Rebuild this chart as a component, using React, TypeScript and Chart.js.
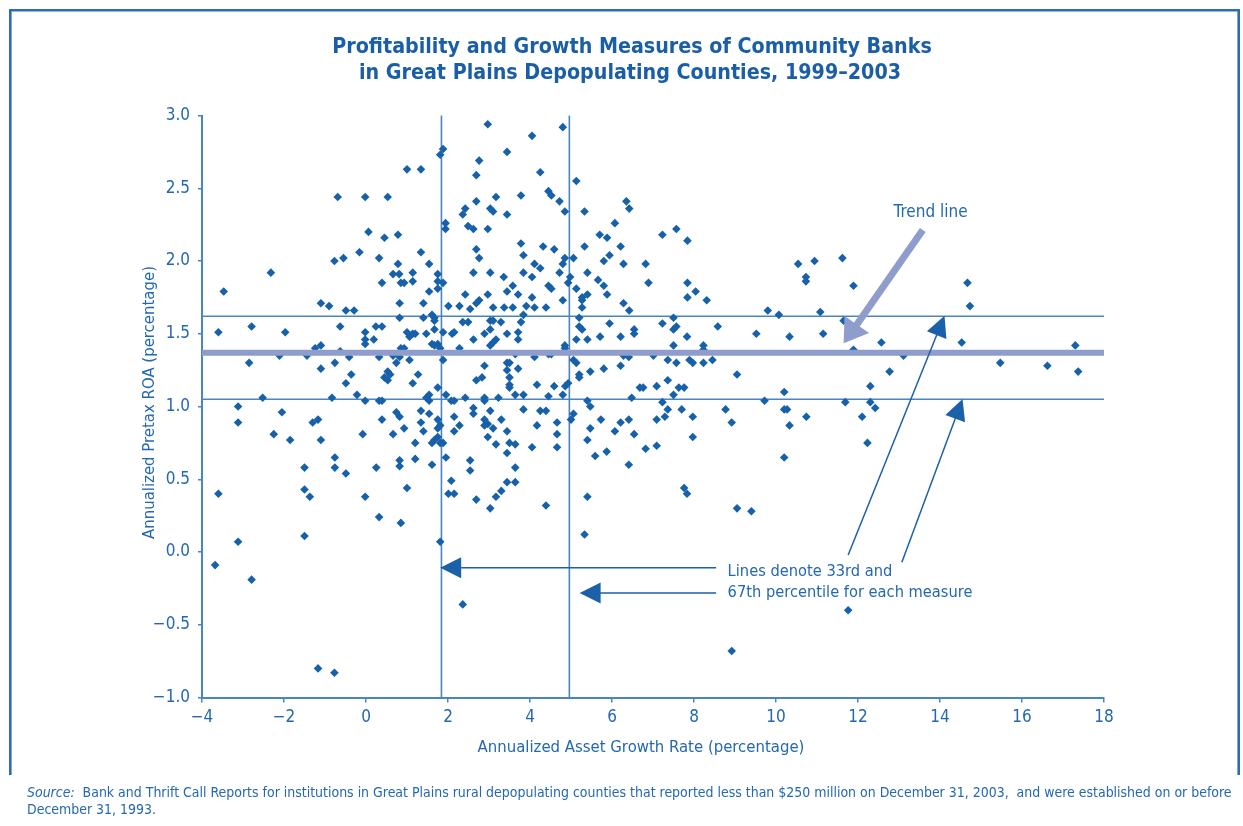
import React, { useEffect, useRef } from "react";
import { Chart, registerables } from "chart.js";

Chart.register(...registerables);

type Pt = [number, number]; // [asset growth %, pretax ROA %]

const banksWest: Pt[] = [
  [-0.69, 2.44], [-0.02, 2.44], [0.53, 2.44], [0.06, 2.2], [0.45, 2.16], [0.78, 2.18], [-0.77, 2.0], [-0.55, 2.02], [-0.16, 2.06], [0.32, 2.02],
  [0.78, 1.98], [-2.32, 1.92], [0.66, 1.91], [0.81, 1.91], [0.39, 1.85], [0.85, 1.85], [-3.47, 1.79], [-1.1, 1.71], [-0.9, 1.69], [-0.49, 1.66],
  [-0.29, 1.66], [0.82, 1.71], [0.82, 1.61], [-3.6, 1.51], [-2.79, 1.55], [-1.97, 1.51], [-0.63, 1.55], [-0.02, 1.51], [0.24, 1.55], [0.39, 1.55],
  [-0.02, 1.46], [-0.02, 1.43], [0.19, 1.46], [-1.24, 1.4], [-1.1, 1.42], [-0.63, 1.38], [0.85, 1.4], [-2.11, 1.35], [-1.44, 1.35], [-0.41, 1.34],
  [0.32, 1.34], [0.66, 1.35], [0.82, 1.34], [-2.85, 1.3], [-0.76, 1.3], [0.74, 1.3], [-1.1, 1.26], [-0.36, 1.22], [0.53, 1.24], [0.59, 1.22],
  [0.45, 1.2], [0.53, 1.18], [-0.49, 1.16], [-0.22, 1.08], [-2.52, 1.06], [-0.83, 1.06], [-0.02, 1.04], [0.32, 1.04], [0.39, 1.04], [-3.12, 1.0],
  [-2.05, 0.96], [0.74, 0.96], [0.82, 0.93], [-1.3, 0.89], [-1.17, 0.91], [-3.12, 0.89], [0.39, 0.91], [-2.25, 0.81], [-1.85, 0.77], [-1.1, 0.77],
  [-0.08, 0.81], [0.66, 0.81], [-0.76, 0.65], [-1.5, 0.58], [-0.76, 0.58], [-0.49, 0.54], [0.25, 0.58], [0.82, 0.63], [0.82, 0.59], [-3.6, 0.4],
  [-1.5, 0.43], [-1.37, 0.38], [-0.02, 0.38], [0.32, 0.24], [0.85, 0.2], [-3.12, 0.07], [-1.5, 0.11], [-3.68, -0.09], [-2.79, -0.19], [-1.17, -0.8],
  [-0.77, -0.83],
];

const banksCore: Pt[] = [
  [2.97, 2.94], [4.8, 2.92], [4.05, 2.86], [1.88, 2.77], [1.81, 2.73], [3.44, 2.75], [2.76, 2.69], [1.0, 2.63], [1.34, 2.63],
  [4.25, 2.61], [2.69, 2.59], [5.13, 2.55], [4.45, 2.48], [4.52, 2.45], [3.78, 2.45], [4.72, 2.41], [2.69, 2.41], [3.17, 2.44], [3.03, 2.36],
  [3.1, 2.34], [2.42, 2.36], [2.36, 2.32], [3.44, 2.32], [4.85, 2.34], [5.33, 2.34], [1.94, 2.26], [1.94, 2.22], [2.49, 2.24], [2.62, 2.22],
  [2.97, 2.22], [5.7, 2.18], [2.69, 2.08], [2.76, 2.02], [1.34, 2.06], [3.78, 2.12], [3.84, 2.04], [4.32, 2.1], [4.59, 2.08], [5.33, 2.1],
  [4.85, 2.02], [5.06, 2.02], [4.8, 1.98], [4.11, 1.98], [1.54, 1.98], [4.25, 1.95], [4.72, 1.92], [3.84, 1.92], [3.03, 1.92], [2.62, 1.92],
  [5.4, 1.92], [1.14, 1.92], [1.75, 1.91], [3.36, 1.89], [4.05, 1.89], [4.98, 1.89], [1.14, 1.86], [1.75, 1.86], [0.93, 1.85], [1.88, 1.85],
  [4.93, 1.85], [5.66, 1.87], [3.58, 1.83], [4.45, 1.83], [4.52, 1.81], [1.75, 1.81], [3.44, 1.79], [5.13, 1.81], [1.54, 1.79], [2.42, 1.77],
  [2.97, 1.77], [3.71, 1.77], [4.05, 1.75], [5.27, 1.75], [5.4, 1.77], [5.27, 1.73], [1.4, 1.71], [2.76, 1.73], [2.69, 1.71], [4.8, 1.73],
  [2.01, 1.69], [2.28, 1.69], [3.1, 1.68], [3.37, 1.68], [3.58, 1.68], [3.91, 1.69], [4.11, 1.68], [4.39, 1.68], [5.27, 1.68],
  [2.54, 1.67], [3.84, 1.63], [1.61, 1.63], [1.67, 1.61], [1.4, 1.61], [3.03, 1.59], [3.1, 1.59], [5.2, 1.61], [1.67, 1.59], [2.36, 1.58],
  [2.49, 1.58], [3.29, 1.58], [3.78, 1.58], [5.2, 1.55], [5.27, 1.53], [3.03, 1.53], [1.67, 1.53], [1.0, 1.51], [1.47, 1.5], [1.14, 1.5],
  [1.2, 1.5], [1.06, 1.48], [2.1, 1.5], [2.15, 1.51], [2.89, 1.5], [3.44, 1.5], [3.71, 1.51], [1.88, 1.51], [2.62, 1.46], [3.71, 1.46],
  [3.17, 1.46], [3.1, 1.44], [3.03, 1.42], [5.13, 1.46], [5.4, 1.46], [1.61, 1.43], [1.67, 1.42], [1.75, 1.43], [1.81, 1.4], [0.93, 1.4],
  [2.28, 1.4], [4.85, 1.42], [4.85, 1.4], [1.06, 1.32], [1.88, 1.32], [3.64, 1.36], [4.11, 1.34], [4.45, 1.36], [4.52, 1.36], [3.44, 1.3],
  [3.5, 1.3], [5.06, 1.32], [5.13, 1.3], [2.89, 1.28], [3.44, 1.25], [3.71, 1.26], [5.47, 1.24], [1.27, 1.22], [5.2, 1.22], [5.2, 1.2],
  [2.83, 1.2], [2.69, 1.18], [3.5, 1.2], [3.5, 1.15], [1.14, 1.16], [4.17, 1.15], [4.59, 1.14], [4.86, 1.14], [4.93, 1.16], [1.75, 1.13],
  [3.5, 1.13], [1.54, 1.08], [1.47, 1.06], [1.54, 1.04], [1.95, 1.08], [2.08, 1.04], [2.15, 1.04], [2.42, 1.06], [2.89, 1.06], [2.89, 1.04],
  [3.23, 1.06], [3.64, 1.08], [3.84, 1.08], [4.45, 1.07], [4.8, 1.08], [5.4, 1.04], [5.47, 1.0], [2.62, 0.99], [2.62, 0.95], [3.03, 0.97],
  [3.84, 0.98], [4.25, 0.97], [4.39, 0.97], [1.34, 0.97], [1.54, 0.95], [2.15, 0.93], [1.75, 0.91], [2.89, 0.91], [2.97, 0.88], [2.89, 0.87],
  [3.3, 0.91], [5.06, 0.95], [5.0, 0.91], [1.34, 0.89], [2.28, 0.87], [0.93, 0.85], [1.75, 0.85], [1.81, 0.87], [3.1, 0.85], [4.17, 0.87],
  [4.66, 0.89], [5.47, 0.85], [1.4, 0.83], [2.15, 0.83], [3.44, 0.83], [4.66, 0.81], [2.97, 0.79], [1.67, 0.77], [1.61, 0.75], [1.75, 0.79],
  [1.81, 0.75], [1.88, 0.75], [1.2, 0.75], [3.5, 0.75], [3.64, 0.74], [3.17, 0.74], [4.05, 0.72], [4.66, 0.72], [5.4, 0.77], [1.95, 0.65],
  [3.44, 0.68], [5.59, 0.66], [1.2, 0.64], [1.61, 0.6], [2.54, 0.63], [2.54, 0.56], [3.64, 0.58], [2.08, 0.49], [3.44, 0.48], [3.64, 0.48],
  [1.0, 0.44], [3.3, 0.42], [3.17, 0.38], [2.01, 0.4], [2.15, 0.4], [2.69, 0.36], [5.4, 0.38], [3.03, 0.3], [4.39, 0.32], [5.33, 0.12],
  [1.81, 0.07], [2.36, -0.36],
];

const banksEast: Pt[] = [
  [6.35, 2.41], [6.42, 2.36], [6.07, 2.26], [5.88, 2.16], [7.23, 2.18], [7.57, 2.22], [7.84, 2.14], [6.21, 2.1], [5.94, 2.04], [5.8, 2.0],
  [6.28, 1.98], [6.82, 1.98], [10.54, 1.98], [5.8, 1.83], [5.88, 1.77], [6.89, 1.85], [7.84, 1.85], [8.04, 1.79], [7.84, 1.75], [8.31, 1.73],
  [6.28, 1.71], [6.42, 1.66], [9.8, 1.66], [10.07, 1.63], [7.5, 1.61], [5.94, 1.57], [7.23, 1.57], [6.54, 1.53], [6.54, 1.5], [7.57, 1.55],
  [7.5, 1.53], [8.58, 1.55], [5.71, 1.48], [6.21, 1.48], [7.83, 1.48], [9.52, 1.5], [10.33, 1.48], [7.5, 1.42], [8.23, 1.42], [8.23, 1.39],
  [6.28, 1.35], [6.41, 1.34], [7.01, 1.35], [7.36, 1.32], [7.57, 1.3], [7.89, 1.32], [7.97, 1.3], [8.23, 1.3], [8.45, 1.32], [5.8, 1.26],
  [6.21, 1.28], [9.05, 1.22], [7.36, 1.18], [7.09, 1.14], [6.68, 1.13], [6.76, 1.13], [7.63, 1.13], [7.76, 1.13], [7.5, 1.08], [6.48, 1.06],
  [7.23, 1.03], [7.36, 0.98], [7.7, 0.98], [8.77, 0.98], [9.72, 1.04], [10.2, 1.1], [10.2, 0.98], [10.27, 0.98], [5.73, 0.91], [6.21, 0.89],
  [6.41, 0.91], [7.09, 0.91], [7.29, 0.93], [7.97, 0.93], [8.92, 0.89], [10.33, 0.87], [6.07, 0.83], [6.54, 0.81], [7.97, 0.79], [5.87, 0.69],
  [6.82, 0.71], [7.09, 0.73], [10.2, 0.65], [6.41, 0.6], [7.76, 0.44], [7.83, 0.4], [9.05, 0.3], [9.4, 0.28], [8.92, -0.68],
];

const banksFar: Pt[] = [
  [10.94, 2.0], [11.62, 2.02], [10.73, 1.89], [10.73, 1.86], [11.89, 1.83], [14.67, 1.85], [14.73, 1.69], [11.08, 1.65], [11.65, 1.59], [11.15, 1.5],
  [12.57, 1.44], [14.53, 1.44], [17.3, 1.42], [11.89, 1.39], [13.11, 1.35], [15.47, 1.3], [16.62, 1.28], [17.37, 1.24], [12.77, 1.24], [12.3, 1.14],
  [11.69, 1.03], [12.3, 1.03], [12.42, 0.99], [10.74, 0.93], [12.1, 0.93], [12.23, 0.75], [11.76, -0.4],
];

const growthPercentiles = [1.84, 4.96]; // 33rd, 67th
const roaPercentiles = [1.05, 1.62]; // 33rd, 67th
const trendROA = 1.37;
const xMin = -4, xMax = 18, xStep = 2;
const yMin = -1, yMax = 3, yStep = 0.5;

const titleLines = [
  "Profitability and Growth Measures of Community Banks",
  "in Great Plains Depopulating Counties, 1999\u20132003",
];
const xTitle = "Annualized Asset Growth Rate (percentage)";
const yTitle = "Annualized Pretax ROA (percentage)";
const trendLabel = "Trend line";
const percentileLabel = ["Lines denote 33rd and", "67th percentile for each measure"];
const sourceLabel = "Source:";
const sourceLines = [
  "Bank and Thrift Call Reports for institutions in Great Plains rural depopulating counties that reported less than $250 million on December 31, 2003,  and were established on or before",
  "December 31, 1993.",
];

// annotation anchors in data coordinates
const trendArrow = { from: [13.58, 2.213], to: [11.65, 1.434] };
const percentileArrows = [
  { from: [11.76, -0.021], to: [14.11, 1.624] },
  { from: [13.07, -0.071], to: [14.55, 1.052] },
  { from: [8.54, -0.108], to: [1.81, -0.108] },
  { from: [8.54, -0.282], to: [5.21, -0.282] },
];

const FAMILY = "'Liberation Sans Narrow', 'DejaVu Sans Condensed', 'Arial Narrow', sans-serif";
const TEXT = "#2468b1";
const TITLE = "#1a5ea7";
const POINT = "#1661a9";
const AXIS = "#4a84c1";
const TREND = "#8f9dcd";
const ARROW = "#1a61a9";

const minus = (v: number, digits: number) => {
  const s = Math.abs(v).toFixed(digits);
  return v < 0 ? "\u2212" + s : s;
};

function fitFont(ctx: CanvasRenderingContext2D, text: string, target: number, weight = "normal", style = "normal") {
  ctx.font = `${style} ${weight} 20px ${FAMILY}`;
  const w = ctx.measureText(text).width;
  const size = (20 * target) / w;
  ctx.font = `${style} ${weight} ${size.toFixed(2)}px ${FAMILY}`;
  return size;
}

function drawArrow(ctx: CanvasRenderingContext2D, x1: number, y1: number, x2: number, y2: number, headLen: number, headHalf: number, lw: number, color: string) {
  const dx = x2 - x1, dy = y2 - y1;
  const L = Math.hypot(dx, dy);
  const ux = dx / L, uy = dy / L;
  const bx = x2 - ux * headLen, by = y2 - uy * headLen;
  ctx.save();
  ctx.strokeStyle = color;
  ctx.lineWidth = lw;
  ctx.beginPath();
  ctx.moveTo(x1, y1);
  ctx.lineTo(bx + ux * 2, by + uy * 2);
  ctx.stroke();
  ctx.fillStyle = color;
  ctx.beginPath();
  ctx.moveTo(x2, y2);
  ctx.lineTo(bx - uy * headHalf, by + ux * headHalf);
  ctx.lineTo(bx + uy * headHalf, by - ux * headHalf);
  ctx.closePath();
  ctx.fill();
  ctx.restore();
}

const decorPlugin = {
  id: "decor",
  beforeDatasetsDraw(chart: any) {
    const { ctx, chartArea: a, scales } = chart;
    const xs = scales.x, ys = scales.y;
    ctx.save();
    ctx.strokeStyle = AXIS;
    ctx.lineWidth = 1.6;
    growthPercentiles.forEach((v) => {
      const px = xs.getPixelForValue(v);
      ctx.beginPath();
      ctx.moveTo(px, a.top);
      ctx.lineTo(px, a.bottom);
      ctx.stroke();
    });
    roaPercentiles.forEach((v) => {
      const py = ys.getPixelForValue(v);
      ctx.beginPath();
      ctx.moveTo(a.left, py);
      ctx.lineTo(a.right, py);
      ctx.stroke();
    });
    ctx.restore();
  },
  afterDatasetsDraw(chart: any) {
    const { ctx, chartArea: a, scales } = chart;
    const xs = scales.x, ys = scales.y;
    const P = (p: number[]) => [xs.getPixelForValue(p[0]), ys.getPixelForValue(p[1])];
    ctx.save();
    // trend line
    const ty = ys.getPixelForValue(trendROA);
    ctx.strokeStyle = TREND;
    ctx.lineWidth = 6;
    ctx.beginPath();
    ctx.moveTo(a.left, ty);
    ctx.lineTo(a.right, ty);
    ctx.stroke();

    // trend arrow
    const [t1x, t1y] = P(trendArrow.from);
    const [t2x, t2y] = P(trendArrow.to);
    drawArrow(ctx, t1x, t1y, t2x, t2y, 23, 15, 7, TREND);

    // percentile arrows
    percentileArrows.forEach((ar) => {
      const [x1, y1] = P(ar.from);
      const [x2, y2] = P(ar.to);
      drawArrow(ctx, x1, y1, x2, y2, 21, 10.5, 1.5, ARROW);
    });

    // annotation text
    ctx.fillStyle = TEXT;
    ctx.textBaseline = "middle";
    ctx.textAlign = "center";
    fitFont(ctx, trendLabel, 74);
    const [lx, ly] = P([13.77, 2.33]);
    ctx.fillText(trendLabel, lx, ly);

    ctx.textAlign = "left";
    fitFont(ctx, percentileLabel[1], 245);
    const [px1, py1] = P([8.82, -0.137]);
    const [, py2] = P([8.82, -0.282]);
    ctx.fillText(percentileLabel[0], px1, py1);
    ctx.fillText(percentileLabel[1], px1, py2);
    ctx.restore();
  },
  afterDraw(chart: any) {
    const { ctx, chartArea: a } = chart;
    ctx.save();
    // frame
    ctx.strokeStyle = "#2c6cb3";
    ctx.lineWidth = 2.6;
    ctx.beginPath();
    ctx.moveTo(10.3, 775);
    ctx.lineTo(10.3, 10.3);
    ctx.lineTo(1238.7, 10.3);
    ctx.lineTo(1238.7, 775);
    ctx.stroke();

    // title
    ctx.fillStyle = TITLE;
    ctx.textAlign = "center";
    ctx.textBaseline = "middle";
    fitFont(ctx, titleLines[0], 600, "bold");
    ctx.fillText(titleLines[0], 632, 47);
    ctx.fillText(titleLines[1], 630, 73);

    // axis titles
    ctx.fillStyle = TEXT;
    fitFont(ctx, xTitle, 327);
    ctx.fillText(xTitle, (a.left + a.right) / 2 - 12, 748);
    ctx.save();
    ctx.translate(150, (a.top + a.bottom) / 2 - 4);
    ctx.rotate(-Math.PI / 2);
    fitFont(ctx, yTitle, 273);
    ctx.fillText(yTitle, 0, 0);
    ctx.restore();

    // source
    ctx.textAlign = "left";
    ctx.font = `italic normal 20px ${FAMILY}`;
    const wLab = ctx.measureText(sourceLabel + "  ").width;
    ctx.font = `normal normal 20px ${FAMILY}`;
    const wTxt = ctx.measureText(sourceLines[0]).width;
    const size = (20 * 1205) / (wLab + wTxt);
    ctx.font = `italic normal ${size.toFixed(2)}px ${FAMILY}`;
    ctx.fillText(sourceLabel, 27, 793);
    const off = ctx.measureText(sourceLabel + "  ").width;
    ctx.font = `normal normal ${size.toFixed(2)}px ${FAMILY}`;
    ctx.fillText(sourceLines[0], 27 + off, 793);
    ctx.fillText(sourceLines[1], 27, 810);
    ctx.restore();
  },
};

export default function App() {
  const ref = useRef<HTMLCanvasElement>(null);
  useEffect(() => {
    const canvas = ref.current;
    if (!canvas) return;
    const toXY = (arr: Pt[]) => arr.map(([x, y]) => ({ x, y }));
    const chart = new Chart(canvas, {
      type: "scatter",
      data: {
        datasets: [
          {
            label: "Banks",
            data: [...toXY(banksWest), ...toXY(banksCore), ...toXY(banksEast), ...toXY(banksFar)],
            pointStyle: "rectRot",
            pointRadius: 4.3,
            pointBorderWidth: 0,
            backgroundColor: POINT,
            borderColor: POINT,
          },
        ],
      },
      options: {
        responsive: false,
        animation: false,
        events: [],
        layout: { padding: { left: 142, right: 139, top: 115.5, bottom: 68.5 } },
        plugins: { legend: { display: false }, tooltip: { enabled: false }, title: { display: false } },
        scales: {
          x: {
            type: "linear",
            min: xMin,
            max: xMax,
            afterFit: (s: any) => { s.height = 60; },
            ticks: { stepSize: xStep, color: TEXT, padding: 5, font: { family: FAMILY, size: 17 }, callback: (v: any) => minus(Number(v), 0) },
            grid: { drawOnChartArea: false, drawTicks: true, tickLength: 5, color: AXIS, lineWidth: 1.5 },
            border: { display: true, color: AXIS, width: 2 },
          },
          y: {
            type: "linear",
            min: yMin,
            max: yMax,
            afterFit: (s: any) => { s.width = 60; },
            ticks: { stepSize: yStep, color: TEXT, padding: 8, font: { family: FAMILY, size: 17 }, callback: (v: any) => minus(Number(v), 1) },
            grid: { drawOnChartArea: false, drawTicks: true, tickLength: 4, color: AXIS, lineWidth: 1.5 },
            border: { display: true, color: AXIS, width: 2 },
          },
        },
      },
      plugins: [decorPlugin],
    } as any);
    return () => chart.destroy();
  }, []);
  return (
    <div style={{ position: "fixed", left: 0, top: 0, width: 1243, height: 826, background: "#ffffff" }}>
      <canvas ref={ref} width={1243} height={826} style={{ display: "block", width: 1243, height: 826 }} />
    </div>
  );
}
